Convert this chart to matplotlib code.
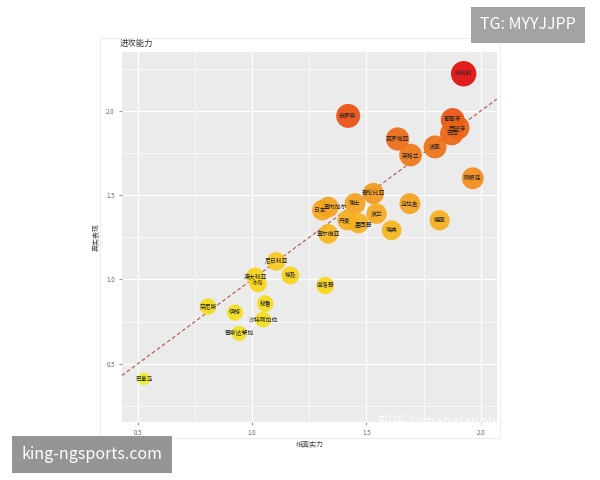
import numpy as np
import matplotlib
matplotlib.use("Agg")
import matplotlib.pyplot as plt
from matplotlib.colors import LinearSegmentedColormap, Normalize
from matplotlib.patches import Rectangle

plt.rcParams['font.family'] = ['Noto Sans CJK SC', 'DejaVu Sans']

# team names, paper strength (x), actual performance (y)
teams = ['比利时', '俄罗斯', '葡萄牙', '西班牙', '巴西', '克罗地亚', '法国', '英格兰',
         '阿根廷', '哥伦比亚', '瑞士', '乌拉圭', '日本', '塞内加尔', '波兰', '丹麦',
         '墨西哥', '德国', '瑞典', '塞尔维亚', '尼日利亚', '澳大利亚', '冰岛', '埃及',
         '摩洛哥', '秘鲁', '沙特阿拉伯', '哥斯达黎加', '突尼斯', '伊朗', '巴拿马']
paper = [1.925, 1.42, 1.877, 1.899, 1.873, 1.636, 1.80, 1.693,
         1.965, 1.53, 1.45, 1.69, 1.307, 1.333, 1.544, 1.417,
         1.465, 1.82, 1.61, 1.333, 1.105, 1.013, 1.026, 1.167,
         1.32, 1.057, 1.048, 0.943, 0.807, 0.925, 0.526]
actual = [2.22, 1.97, 1.946, 1.90, 1.865, 1.833, 1.786, 1.738,
          1.60, 1.51, 1.45, 1.45, 1.411, 1.429, 1.39, 1.351,
          1.333, 1.351, 1.292, 1.27, 1.107, 1.018, 0.976, 1.024,
          0.964, 0.857, 0.762, 0.68, 0.839, 0.804, 0.41]

x = np.array(paper)
y = np.array(actual)

cmap = LinearSegmentedColormap.from_list('att', [
    (0.0, '#eef01c'), (0.33, '#f7d418'), (0.55, '#f5a81e'),
    (0.83, '#eb5f12'), (1.0, '#e00c0c')])
norm = Normalize(vmin=0.41, vmax=2.22)
sizes = 80 + 140 * (y - 0.41)

# small label nudges where names pile up (data units)
nudge = {'日本': (-0.012, 0.0), '塞内加尔': (0.03, 0.0),
         '丹麦': (-0.012, 0.0), '墨西哥': (0.02, -0.004)}

fig = plt.figure(figsize=(6, 4.8), dpi=100)
fig.patch.set_facecolor('white')

# faint frame of the screenshot
fig.add_artist(Rectangle((100 / 600, 1 - 438 / 480), 400 / 600, 400 / 480,
                         transform=fig.transFigure, fill=False,
                         edgecolor='#eeeeee', lw=0.8))

ax = fig.add_axes([0.203, 0.121, 0.625, 0.771])
ax.set_facecolor('#ebebeb')
for s in ax.spines.values():
    s.set_visible(False)

ax.set_xlim(0.43, 2.07)
ax.set_ylim(0.155, 2.35)
ax.set_xticks([0.5, 1.0, 1.5, 2.0])
ax.set_yticks([0.5, 1.0, 1.5, 2.0])
ax.set_xticks([0.75, 1.25, 1.75], minor=True)
ax.set_yticks([0.25, 0.75, 1.25, 1.75, 2.25], minor=True)
ax.grid(which='major', color='white', lw=1.0)
ax.grid(which='minor', color='white', lw=0.5)
ax.set_axisbelow(True)
ax.tick_params(which='major', length=2, color='#999999', labelsize=4.5,
               labelcolor='#666666', pad=3)
ax.tick_params(which='minor', length=0)

ax.plot([0.43, 2.07], [0.43, 2.07], ls=(0, (3, 2)), color='#b5655a', lw=0.9, zorder=2)

ax.scatter(x, y, s=sizes, c=y, cmap=cmap, norm=norm, alpha=0.92,
           edgecolors='none', zorder=3)
for t, xi, yi in zip(teams, x, y):
    dx, dy = nudge.get(t, (0, 0))
    ax.text(xi + dx, yi + dy, t, fontsize=4.2, ha='center', va='center',
            color='#222222', zorder=4)

ax.set_xlabel('纸面实力', fontsize=5, color='#444444', labelpad=3)
ax.set_ylabel('真实表现', fontsize=5, color='#444444', labelpad=4)
ax.set_title('进攻能力', fontsize=6, color='#333333', loc='left', pad=4, x=-0.005)

# watermark and overlay tags
fig.text(0.63, 0.12, '知乎 @mahalanobis', fontsize=10, color='white', alpha=0.85,
         ha='left', va='center')
fig.text(0.88, 0.948, 'TG: MYYJJPP', fontsize=11.5, color='white', ha='center',
         va='center', bbox=dict(boxstyle='square,pad=0.6', fc='#a3a3a3', ec='none'))
fig.text(0.154, 0.053, 'king-ngsports.com', fontsize=11.5, color='white', ha='center',
         va='center', bbox=dict(boxstyle='square,pad=0.6', fc='#959595', ec='none'))

fig.savefig('out.png', dpi=100)
